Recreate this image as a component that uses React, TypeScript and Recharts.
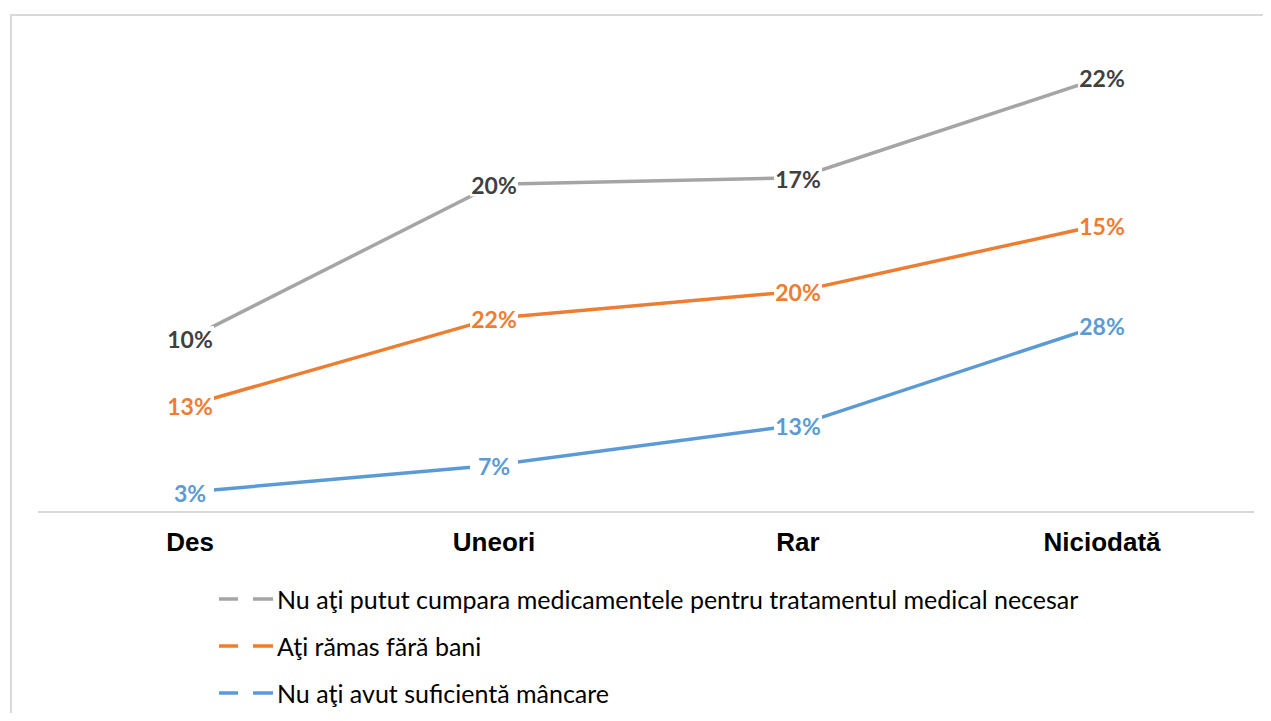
import React from "react";
import { AreaChart, Area, XAxis, YAxis, LabelList } from "recharts";

// Stacked line chart: each series stacks on the ones below it
const CATEGORIES = ["Des", "Uneori", "Rar", "Niciodată"];
const MEDICAMENTE = [10, 20, 17, 22];
const FARA_BANI = [13, 22, 20, 15];
const MANCARE = [3, 7, 13, 28];

const SERIES = [
  { key: "mancare", name: "Nu aţi avut suficientă mâncare", values: MANCARE, color: "#5B9BD5", labelColor: "#5B9BD5" },
  { key: "bani", name: "Aţi rămas fără bani", values: FARA_BANI, color: "#ED7D31", labelColor: "#ED7D31" },
  { key: "medicamente", name: "Nu aţi putut cumpara medicamentele pentru tratamentul medical necesar", values: MEDICAMENTE, color: "#A5A5A5", labelColor: "#404040" },
];

const data = CATEGORIES.map((cat, i) => {
  const row: Record<string, string | number> = { category: cat };
  SERIES.forEach((s) => {
    row[s.key] = s.values[i];
  });
  return row;
});

const LABEL_FONT = "Lato, 'Open Sans', sans-serif";

const makeLabel = (color: string) => (props: any) => {
  const { x, y, value } = props;
  if (x == null || y == null) return null;
  const text = `${value}%`;
  const w = 48;
  const h = 24;
  return (
    <g>
      <rect x={x - w / 2} y={y - h / 2} width={w} height={h} fill="#fff" />
      <text
        x={x}
        y={y + 1}
        textAnchor="middle"
        dominantBaseline="central"
        fill={color}
        fontFamily={LABEL_FONT}
        fontWeight={700}
        fontSize={23}
      >
        {text}
      </text>
    </g>
  );
};

const CategoryTick = (props: any) => {
  const { x, y, payload } = props;
  return (
    <text
      x={x}
      y={y + 31}
      textAnchor="middle"
      fill="#000"
      fontFamily="'Liberation Sans', Arial, sans-serif"
      fontWeight={700}
      fontSize={26}
    >
      {payload.value}
    </text>
  );
};

export default function App() {
  const legendItems = [...SERIES].reverse();
  return (
    <div style={{ position: "relative", width: 1271, height: 721, margin: -8, background: "#fff", overflow: "hidden" }}>
      <div
        style={{
          position: "absolute",
          left: 10,
          top: 14,
          width: 1300,
          height: 800,
          border: "2px solid #D9D9D9",
          boxSizing: "border-box",
        }}
      />
      <div style={{ position: "absolute", left: 0, top: 0 }}>
        <AreaChart width={1271} height={721} data={data} margin={{ top: 44, right: 17, left: 38, bottom: 169 }}>
          <XAxis
            dataKey="category"
            height={40}
            axisLine={{ stroke: "#D9D9D9", strokeWidth: 2 }}
            tickLine={false}
            tick={<CategoryTick />}
            interval={0}
            padding={{ left: 152, right: 152 }}
          />
          <YAxis hide domain={[0, 70]} />
          {SERIES.map((s) => (
            <Area
              key={s.key}
              type="linear"
              dataKey={s.key}
              stackId="1"
              stroke={s.color}
              strokeWidth={3.5}
              fill="none"
              fillOpacity={0}
              dot={false}
              activeDot={false}
              isAnimationActive={false}
            >
              <LabelList dataKey={s.key} content={makeLabel(s.labelColor)} />
            </Area>
          ))}
        </AreaChart>
      </div>
      <div style={{ position: "absolute", left: 219, top: 575, fontFamily: LABEL_FONT, fontSize: 25, color: "#000" }}>
        {legendItems.map((s) => (
          <div key={s.key} style={{ display: "flex", alignItems: "center", height: 47 }}>
            <svg width={58} height={10} style={{ marginRight: 0 }}>
              <line x1={0} y1={5} x2={19} y2={5} stroke={s.color} strokeWidth={3.5} />
              <line x1={34} y1={5} x2={54} y2={5} stroke={s.color} strokeWidth={3.5} />
            </svg>
            <span>{s.name}</span>
          </div>
        ))}
      </div>
    </div>
  );
}
